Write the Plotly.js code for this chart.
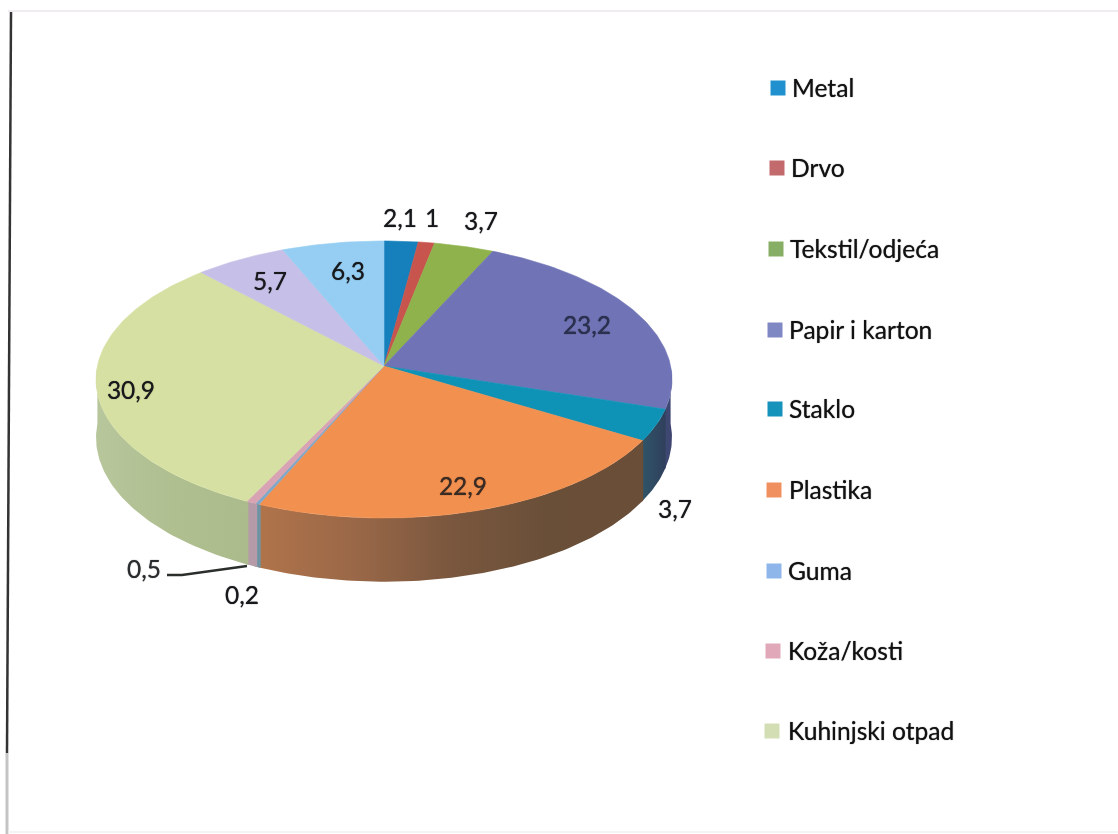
<!DOCTYPE html>
<html>
<head>
<meta charset="utf-8">
<script src="https://cdn.plot.ly/plotly-3.0.1.min.js"></script>
<style>html,body{margin:0;padding:0;background:#fff}#chart{width:1118px;height:834px;filter:blur(0.45px)}</style>
</head>
<body>
<div id="chart"></div>
<script>
// --- data, clockwise from 12 o'clock ---
const sliceValues = [2.1, 1, 3.7, 23.2, 3.7, 22.9, 0.2, 0.5, 30.9, 5.7, 6.3];
const legendNames = ["Metal","Drvo","Tekstil/odjeća","Papir i karton","Staklo","Plastika","Guma","Koža/kosti","Kuhinjski otpad"];

// --- styles and positions ---
const topColors = ["#1580BC","#C8544E","#8FB24C","#7074B6","#0E93B7","#F29050","#7FA8C8","#D8A4B4","#D6E0A2","#C6C0E8","#95CEF2"];
const wallColors = [null,null,null,
  ["#3C4A72","#3F4470"],["#2F5568","#303F5C"],
  ["#B0744A","#9A6848","#7A573E","#6A4F38","#6A4E38"],
  ["#6F93A5","#6F93A5"],["#B59AA8","#B59AA8"],
  ["#B8C69C","#AFBF90","#ABBB8C"],null,null];
const legendColors = ["#2090CE","#C26A6C","#86AE64","#8088C4","#1593BA","#F09060","#8EB6EA","#E0A8B8","#D4DEB4"];
const legendMarkerX = [778,777,776,775,775,774,774,773,772];
const legendMarkerY = [88,168,249,330,409,490,571,651,731];
const legendTextX = [792,791,790,789,789,789,788,788,788];
const legendTextY = [91,171,252,333,412,493,574,654,734];
const labelX = [400,432,481,587,675,463,242,144,131,270,348];
const labelY = [221,221,224,328,512,489,598,572,393,284,274];
const labelColors = ["#16181b","#16181b","#16181b","#2a3050","#16181b","#3a2c24","#16181b","#2a2d2f","#16181b","#16181b","#16181b"];
const leaderX = [167,182,247], leaderY = [575,575,566];
const FONT = "Lato, 'Noto Sans', sans-serif";
const EMBOLDEN = "0 0 1px rgba(0,0,0,0.75)";

// --- perspective projection of the round pie to the page ---
const cx = 384, apexY = 366, rx = 286.6, ry = 137.2, persp = 0.0975, wallH = 57.5;
const rad = d => d * Math.PI / 180;
function rim(deg, down) {
  const c = Math.cos(rad(deg)), s = 1 / (1 + persp * c);
  return [cx + rx * Math.sin(rad(deg)) * s, apexY - ry * c * s + (down ? wallH * s : 0)];
}
function arc(a, b, down) {
  const n = Math.max(2, Math.ceil(Math.abs(b - a))), xs = [], ys = [];
  for (let i = 0; i <= n; i++) { const p = rim(a + (b - a) * i / n, down); xs.push(p[0]); ys.push(p[1]); }
  return [xs, ys];
}
const total = sliceValues.reduce((a, b) => a + b, 0);
let acc = 0;
const spans = sliceValues.map(v => { const a = acc; acc += v; return [a / total * 360, acc / total * 360]; });

const traces = [];
// side wall
spans.forEach((sp, i) => {
  if (!wallColors[i]) return;
  const a = Math.max(sp[0] - 0.3, 90), b = Math.min(sp[1] + 0.3, 270);
  if (b <= a) return;
  const up = arc(a, b, false), dn = arc(b, a, true);
  const stops = wallColors[i].map((c, k, arr) => [k / (arr.length - 1), c]);
  traces.push({
    type: "scatter", mode: "lines", x: up[0].concat(dn[0]), y: up[1].concat(dn[1]),
    fill: "toself", line: {width: 0}, hoverinfo: "skip", showlegend: false,
    fillcolor: wallColors[i][0],
    fillgradient: {type: "horizontal", colorscale: stops}
  });
});
// top surface
spans.forEach((sp, i) => {
  const a = arc(sp[0], sp[1], false);
  traces.push({
    type: "scatter", mode: "lines",
    x: [cx].concat(a[0], [cx]), y: [apexY].concat(a[1], [apexY]),
    fill: "toself", fillcolor: topColors[i],
    line: {width: 0.6, color: topColors[i]}, hoverinfo: "skip", showlegend: false
  });
});
// leader for the 0,5 label
traces.push({type: "scatter", mode: "lines", x: leaderX, y: leaderY,
  line: {color: "#2a2f2c", width: 2.5}, hoverinfo: "skip", showlegend: false});
// data labels
traces.push({type: "scatter", mode: "text", x: labelX, y: labelY,
  text: sliceValues.map(v => String(v).replace(".", ",")),
  textposition: "middle center",
  textfont: {family: FONT, size: 24.5, color: labelColors, shadow: EMBOLDEN},
  hoverinfo: "skip", showlegend: false});
// legend
traces.push({type: "scatter", mode: "markers", x: legendMarkerX, y: legendMarkerY,
  marker: {symbol: "square", size: 15, color: legendColors, line: {width: 0}},
  hoverinfo: "skip", showlegend: false});
traces.push({type: "scatter", mode: "text", x: legendTextX, y: legendTextY,
  text: legendNames, textposition: "middle right",
  textfont: {family: FONT, size: 24.6, color: "#111", shadow: EMBOLDEN},
  hoverinfo: "skip", showlegend: false});

const layout = {
  width: 1118, height: 834, margin: {l: 0, r: 0, t: 0, b: 0},
  paper_bgcolor: "#fff", plot_bgcolor: "#fff",
  xaxis: {range: [0, 1118], visible: false, fixedrange: true},
  yaxis: {range: [834, 0], visible: false, fixedrange: true},
  shapes: [
    {type: "line", x0: 11, y0: 12, x1: 7, y1: 753, line: {color: "#333", width: 2.5}},
    {type: "line", x0: 7, y0: 753, x1: 7, y1: 834, line: {color: "#c4c4c4", width: 3}},
    {type: "line", x0: 8, y0: 11, x1: 1118, y1: 11, line: {color: "#e8e6ea", width: 1.5}},
    {type: "line", x0: 8, y0: 832, x1: 1118, y1: 832, line: {color: "#f0f0f0", width: 1.5}}
  ],
  showlegend: false
};
Plotly.newPlot("chart", traces, layout, {displayModeBar: false, staticPlot: true});
</script>
</body>
</html>
